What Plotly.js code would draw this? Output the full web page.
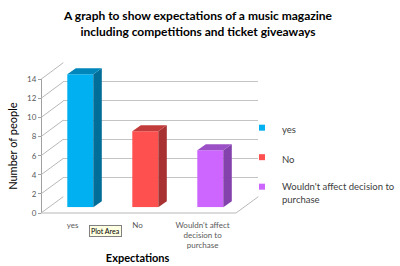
<!DOCTYPE html>
<html>
<head>
<meta charset="utf-8">
<script src="https://cdn.plot.ly/plotly-3.0.1.min.js"></script>
<style>html,body{margin:0;padding:0;background:#fff;}#chart{width:400px;height:266px;}</style>
</head>
<body>
<div id="chart"></div>
<script>
// ---- data ----
const categories = ["yes", "No", "Wouldn't affect decision to purchase"];
const tickLabels = ["yes", "No", "Wouldn't affect<br>decision to<br>purchase"];
const legendLabels = ["yes", "No", "Wouldn't affect decision to<br>purchase"];
const values = [14, 8, 6];
const yTickValues = [0, 2, 4, 6, 8, 10, 12, 14];

// ---- styles ----
const frontColors = ["#00b0f0", "#ff5050", "#cc66ff"];
const sideColors = ["#006e98", "#a83232", "#8442ac"];
const topColors = ["#0086ba", "#c23c3c", "#9c50c6"];
const W = 400, H = 266;
const px = p => p / W;
const py = p => 1 - p / H;

// geometry (pixels)
const backL = 63.3, backR = 258.3, back0 = 196.7, back14 = 62.7;
const frontAxisX = 41, front0 = 213, front14 = 79.3;
const barBase = 207.3, barPerUnit = 9.5, barSpacing = 65, barFirst = 80.3;
const depthX = 8.5, depthY = 6;
const labelShift = -7.7;

const yMax = 14;
const barYTop = 15;
const barXMax = 2.8;
const xs = categories.map((c, i) => i);
const barW = 0.4;
const dxd = depthX / barSpacing, dyd = depthY / barPerUnit;

const traces = [];
// invisible anchor traces
traces.push({x: [0], y: [0], xaxis: 'x', yaxis: 'y', mode: 'markers', marker: {opacity: 0}, showlegend: false, hoverinfo: 'skip'});
traces.push({x: [0], y: [0], xaxis: 'x3', yaxis: 'y3', mode: 'markers', marker: {opacity: 0}, showlegend: false, hoverinfo: 'skip'});

categories.forEach((c, i) => {
  const v = values[i];
  const xr = xs[i] + barW / 2, xl = xs[i] - barW / 2;
  // side face
  traces.push({
    x: [xr, xr + dxd, xr + dxd, xr, xr], y: [0, dyd, v + dyd, v, 0],
    xaxis: 'x2', yaxis: 'y2', mode: 'lines', fill: 'toself',
    fillcolor: sideColors[i], line: {width: 0}, showlegend: false, hoverinfo: 'skip'
  });
  // top face
  traces.push({
    x: [xl, xr, xr + dxd, xl + dxd, xl], y: [v, v, v + dyd, v + dyd, v],
    xaxis: 'x2', yaxis: 'y2', mode: 'lines', fill: 'toself',
    fillcolor: topColors[i], line: {width: 0}, showlegend: false, hoverinfo: 'skip'
  });
  // front face
  traces.push({
    type: 'bar', x: [xs[i]], y: [v], width: barW, name: categories[i],
    xaxis: 'x2', yaxis: 'y2', marker: {color: frontColors[i], line: {width: 0}},
    showlegend: false, legendgroup: 'g' + i
  });
  // legend entry
  traces.push({
    x: [null], y: [null], xaxis: 'x2', yaxis: 'y2', mode: 'markers', type: 'scatter',
    name: legendLabels[i], legendgroup: 'g' + i,
    marker: {symbol: 'square', size: 6, color: frontColors[i]}
  });
});

// frame shapes
const shapes = [];
const lineCol = '#b8b8b8';
yTickValues.forEach(v => {
  shapes.push({type: 'line', xref: 'paper', yref: 'paper',
    x0: px(frontAxisX), y0: py(front0 - (front0 - front14) * v / yMax),
    x1: px(backL), y1: py(back0 - (back0 - back14) * v / yMax),
    line: {color: lineCol, width: 1}});
});
// floor front edge and right edge
const frontR = backR - (backL - frontAxisX);
shapes.push({type: 'line', xref: 'paper', yref: 'paper', x0: px(frontAxisX), y0: py(front0), x1: px(frontR), y1: py(front0), line: {color: lineCol, width: 1}});
shapes.push({type: 'line', xref: 'paper', yref: 'paper', x0: px(frontR), y0: py(front0), x1: px(backR), y1: py(back0), line: {color: lineCol, width: 1}});

const barDomX = [px(barFirst - barSpacing / 2), px(barFirst + barSpacing * barXMax)];
const fontFam = 'Lato, "Open Sans", sans-serif';

const layout = {
  width: W, height: H,
  margin: {l: 0, r: 0, t: 0, b: 0},
  paper_bgcolor: '#fff', plot_bgcolor: 'rgba(0,0,0,0)',
  font: {family: fontFam, color: '#404040'},
  title: {
    text: "A graph to show expectations of a music magazine<br>including competitions and ticket giveaways",
    font: {family: fontFam, size: 12, color: '#000', weight: 'bold'},
    x: 0.495, xanchor: 'center', y: py(20), yanchor: 'middle', yref: 'container'
  },
  barmode: 'overlay',
  xaxis: {domain: [px(backL), px(backR)], range: [0, 1], showgrid: false, zeroline: false, showticklabels: false, ticks: '', anchor: 'y', fixedrange: true},
  yaxis: {domain: [py(back0), py(back14)], range: [0, yMax], dtick: 2, showgrid: true, gridcolor: '#c4c4c4', gridwidth: 1, zeroline: false, showticklabels: false, ticks: '', anchor: 'x', fixedrange: true},
  xaxis2: {domain: barDomX, range: [-0.5, barXMax], showgrid: false, zeroline: false, visible: false, anchor: 'y2'},
  yaxis2: {domain: [py(barBase), py(barBase - barPerUnit * barYTop)], range: [0, barYTop], showgrid: false, zeroline: false, visible: false, anchor: 'x2'},
  xaxis3: {
    domain: [px(barFirst - barSpacing / 2 + labelShift), px(barFirst + barSpacing * 2.5 + labelShift)],
    range: [-0.5, 2.5], tickmode: 'array', tickvals: xs, ticktext: tickLabels,
    tickfont: {size: 8, color: '#595959', family: fontFam},
    ticks: 'outside', ticklen: 4, tickcolor: 'rgba(0,0,0,0)',
    showgrid: false, zeroline: false, showline: false, anchor: 'y3',
    title: {text: 'Expectations', font: {size: 11, color: '#000', weight: 'bold', family: fontFam}, standoff: 4}
  },
  yaxis3: {
    domain: [py(front0), py(front14)], range: [0, yMax], tickmode: 'array', tickvals: yTickValues,
    tickfont: {size: 8, color: '#595959', family: fontFam},
    ticks: 'outside', ticklen: 3, tickcolor: '#a0a0a0',
    showline: true, linecolor: '#a0a0a0', linewidth: 1,
    showgrid: false, zeroline: false, anchor: 'free', position: px(frontAxisX),
    title: {text: 'Number of people', font: {size: 11, color: '#000', family: fontFam}, standoff: 6}
  },
  showlegend: true,
  legend: {
    x: 1, xanchor: 'right', y: py(115), yanchor: 'top',
    font: {size: 9.5, color: '#404040', family: fontFam},
    tracegroupgap: 10.5, valign: 'top', bgcolor: 'rgba(0,0,0,0)'
  },
  shapes: shapes,
  annotations: [{
    text: 'Plot Area', xref: 'paper', yref: 'paper', x: px(105), y: py(231),
    xanchor: 'center', yanchor: 'middle', showarrow: false,
    font: {size: 7, color: '#000', family: fontFam},
    bgcolor: '#ffffe1', bordercolor: '#808080', borderwidth: 1, borderpad: 1
  }]
};

Plotly.newPlot('chart', traces, layout, {displayModeBar: false, staticPlot: true});
</script>
</body>
</html>
